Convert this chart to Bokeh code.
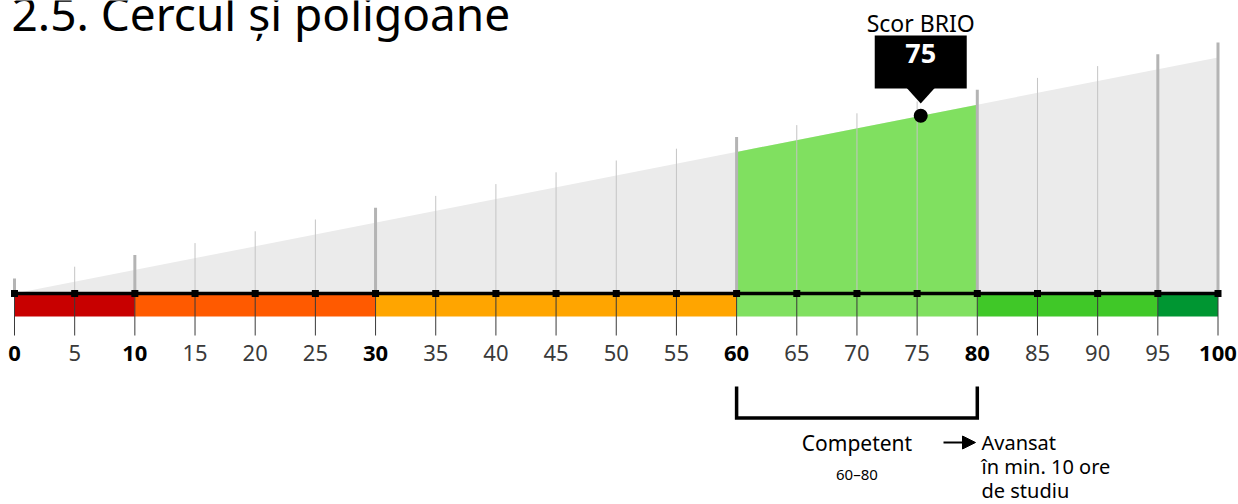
from bokeh.plotting import figure
from bokeh.models import Range1d, Arrow, NormalHead
from bokeh.embed import file_html
from bokeh.resources import INLINE
from bokeh.core.properties import value

# ---------------- data ----------------
title_text = "2.5. Cercul și poligoane"
ticks = list(range(0, 101, 5))
bold_ticks = [0, 10, 30, 60, 80, 100]
band_starts = [0, 10, 30, 60, 80, 95]
band_ends = [10, 30, 60, 80, 95, 100]
band_colors = ["#c80000", "#ff5a00", "#ffa500", "#80e060", "#40c828", "#009632"]
score_value = 75.3
score_label = "75"
score_title = "Scor BRIO"
level_range = [60, 80]
level_name = "Competent"
level_range_label = "60–80"
next_level_lines = ["Avansat", "în min. 10 ore", "de studiu"]

# ---------------- geometry (pixels) ----------------
W, H = 1238, 504
X0PX, PXU = 14.0, 12.035       # pixel of value 0, pixels per unit
AXIS_PY = 293.0
SLOPE = 2.36                    # wedge height per unit (px)
FONT = "Noto Sans"
BASE_K = 0.38                   # baseline correction (fraction of font size)


def xu(px):
    return (px - X0PX) / PXU


def yu(py):
    return AXIS_PY - py


def ty(py, fs):
    # y for a text whose alphabetic baseline should sit at pixel row py
    return AXIS_PY - (py - BASE_K * fs)


p = figure(width=W, height=H, output_backend="svg", toolbar_location=None,
           x_range=Range1d(xu(0), xu(W)), y_range=Range1d(yu(H), yu(0)),
           min_border=0, outline_line_color=None, background_fill_color="white",
           border_fill_color="white")
p.axis.visible = False
p.grid.visible = False

# wedge
p.patch([0, 100, 100], [0, 100 * SLOPE, 0], fill_color="#ebebeb", line_color=None)
# highlighted level region
lo, hi = level_range
p.patch([lo, lo, hi, hi], [0, lo * SLOPE, hi * SLOPE, 0], fill_color="#80e060", line_color=None)

# vertical lines above axis
bounds = sorted(set(band_starts + band_ends))
thin = [t for t in ticks if t not in bounds]
p.segment(x0=thin, y0=[0] * len(thin), x1=thin, y1=[t * SLOPE + 15 for t in thin],
          line_color="#c4c4c4", line_width=1)
p.segment(x0=bounds, y0=[0] * len(bounds), x1=bounds, y1=[t * SLOPE + 15 for t in bounds],
          line_color="#b4b4b4", line_width=3)

# colour band
p.quad(left=band_starts, right=band_ends, bottom=-23, top=0, fill_color=band_colors, line_color=None)

# tick lines below axis
p.segment(x0=ticks, y0=[0] * len(ticks), x1=ticks, y1=[-42] * len(ticks),
          line_color="#3a3a3a", line_width=1)

# axis line + markers
p.segment(x0=[0], y0=[0], x1=[100], y1=[0], line_color="black", line_width=3.5)
p.scatter(ticks, [0] * len(ticks), marker="square", size=7, fill_color="black", line_color=None)

# tick labels
reg = [t for t in ticks if t not in bold_ticks]
p.text(x=reg, y=[ty(361, 22)] * len(reg), text=[str(t) for t in reg], text_align="center",
       text_baseline="alphabetic", text_font=value(FONT), text_font_size="22px",
       text_color="#3a3a3a")
p.text(x=bold_ticks, y=[ty(361, 22)] * len(bold_ticks), text=[str(t) for t in bold_ticks],
       text_align="center", text_baseline="alphabetic", text_font=value(FONT),
       text_font_size="22px", text_font_style="bold", text_color="black")

# score dot
p.scatter([score_value], [score_value * SLOPE], size=14, fill_color="black", line_color=None)

# callout
p.rect(x=[score_value], y=[yu(61.5)], width=92, height=53, width_units="screen",
       height_units="screen", fill_color="black", line_color=None)
dx = 14 / PXU
p.patch([score_value - dx, score_value + dx, score_value],
        [yu(87.5), yu(87.5), yu(103)], fill_color="black", line_color=None)
p.text(x=[score_value], y=[ty(63.5, 27)], text=[score_label], text_align="center",
       text_baseline="alphabetic", text_font=value(FONT), text_font_size="27px",
       text_font_style="bold", text_color="white")
p.text(x=[score_value], y=[ty(31, 23)], text=[score_title], text_align="center",
       text_baseline="alphabetic", text_font=value(FONT), text_font_size="23px",
       text_color="black")

# bracket
p.line([lo, lo, hi, hi], [yu(386), yu(417.5), yu(417.5), yu(386)], line_color="black",
       line_width=3.5, line_join="miter")
mid = (lo + hi) / 2
p.text(x=[mid], y=[ty(450, 21)], text=[level_name], text_align="center", text_baseline="alphabetic",
       text_font=value(FONT), text_font_size="21px", text_color="black")
p.text(x=[mid], y=[ty(479, 15)], text=[level_range_label], text_align="center",
       text_baseline="alphabetic", text_font=value(FONT), text_font_size="15px",
       text_color="black")

# arrow + next level
p.add_layout(Arrow(end=NormalHead(size=13, fill_color="black", line_color="black"),
                   x_start=xu(943), y_start=yu(442), x_end=xu(975), y_end=yu(442),
                   line_color="black", line_width=2))
p.text(x=[xu(981)] * 3, y=[ty(450, 20), ty(474, 20), ty(497.5, 20)], text=next_level_lines,
       text_align="left", text_baseline="alphabetic", text_font=value(FONT),
       text_font_size="20px", text_color="black")

# title
p.text(x=[xu(11)], y=[ty(30, 46)], text=[title_text], text_align="left", text_baseline="alphabetic",
       text_font=value(FONT), text_font_size="46px", text_color="black")

open("out.html", "w").write(file_html(p, INLINE))
